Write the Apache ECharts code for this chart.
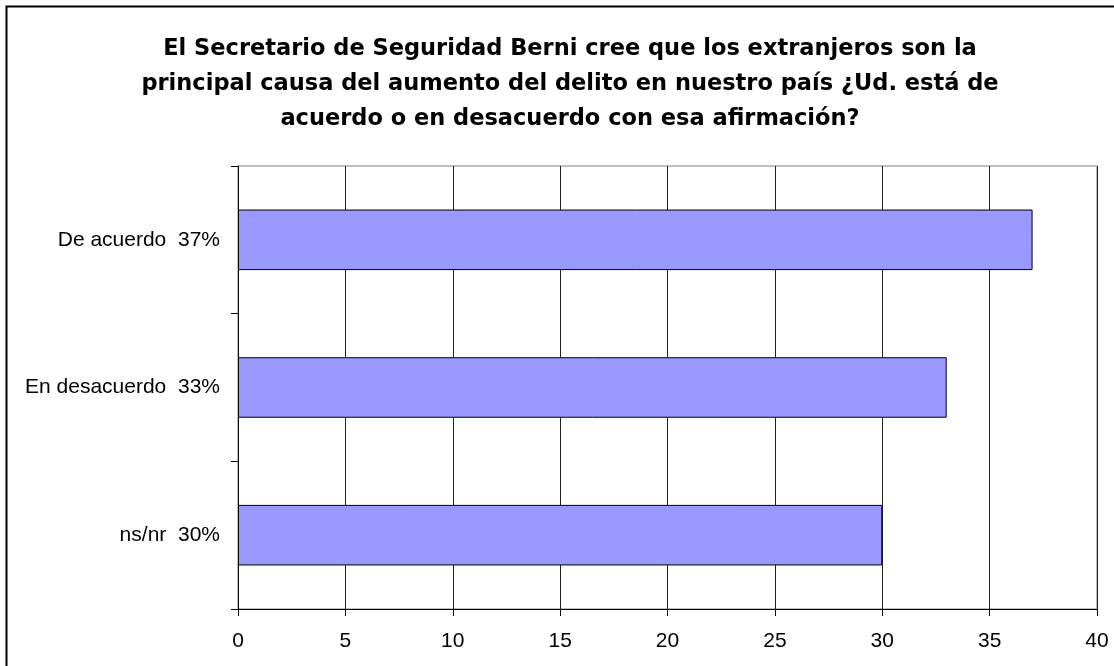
<!DOCTYPE html>
<html>
<head>
<meta charset="utf-8">
<script src="https://cdn.jsdelivr.net/npm/echarts@6/dist/echarts.min.js"></script>
<style>
html,body{margin:0;padding:0;background:#fff;}
#chart{width:1114px;height:666px;}
</style>
</head>
<body>
<div id="chart"></div>
<script>
const titleText = 'El Secretario de Seguridad Berni cree que los extranjeros son la\nprincipal causa del aumento del delito en nuestro país ¿Ud. está de\nacuerdo o en desacuerdo con esa afirmación?';
const categories = ['De acuerdo  37%', 'En desacuerdo  33%', 'ns/nr  30%'];
const values = [37, 33, 30];
const xTicks = { min: 0, max: 40, interval: 5 };

const chart = echarts.init(document.getElementById('chart'), null, {renderer: 'canvas'});
chart.setOption({
  animation: false,
  backgroundColor: '#ffffff',
  graphic: [{
    type: 'rect',
    shape: { x: 6.5, y: 6.5, width: 1140, height: 700 },
    style: { fill: 'none', stroke: '#000', lineWidth: 2 },
    z: 100
  }],
  title: {
    text: titleText,
    left: 565,
    top: 27,
    textAlign: 'center',
    textStyle: {
      fontFamily: 'DejaVu Sans, Arial, sans-serif',
      fontWeight: 'bold',
      fontSize: 22.5,
      lineHeight: 35,
      color: '#000'
    }
  },
  grid: {
    left: 238, right: 17, top: 166, bottom: 57,
    show: true, borderColor: '#808080', borderWidth: 1,
    containLabel: false
  },
  xAxis: {
    type: 'value',
    min: xTicks.min, max: xTicks.max, interval: xTicks.interval,
    axisLine: { show: true, lineStyle: { color: '#000', width: 1 } },
    axisTick: { show: true, length: 7, lineStyle: { color: '#000' } },
    axisLabel: {
      margin: 22,
      fontFamily: 'Liberation Sans, Arial, sans-serif',
      fontSize: 21, color: '#000'
    },
    splitLine: { show: true, lineStyle: { color: '#222', width: 1 } }
  },
  yAxis: {
    type: 'category',
    data: categories,
    inverse: true,
    axisLine: { show: true, lineStyle: { color: '#000', width: 1 } },
    axisTick: { show: true, length: 7, lineStyle: { color: '#000' } },
    axisLabel: {
      margin: 18,
      fontFamily: 'Liberation Sans, Arial, sans-serif',
      fontSize: 21, color: '#000'
    },
    splitLine: { show: false }
  },
  series: [{
    type: 'bar',
    data: values,
    barCategoryGap: '59%',
    itemStyle: { color: '#9999FF', borderColor: '#000', borderWidth: 1 }
  }]
});
</script>
</body>
</html>
